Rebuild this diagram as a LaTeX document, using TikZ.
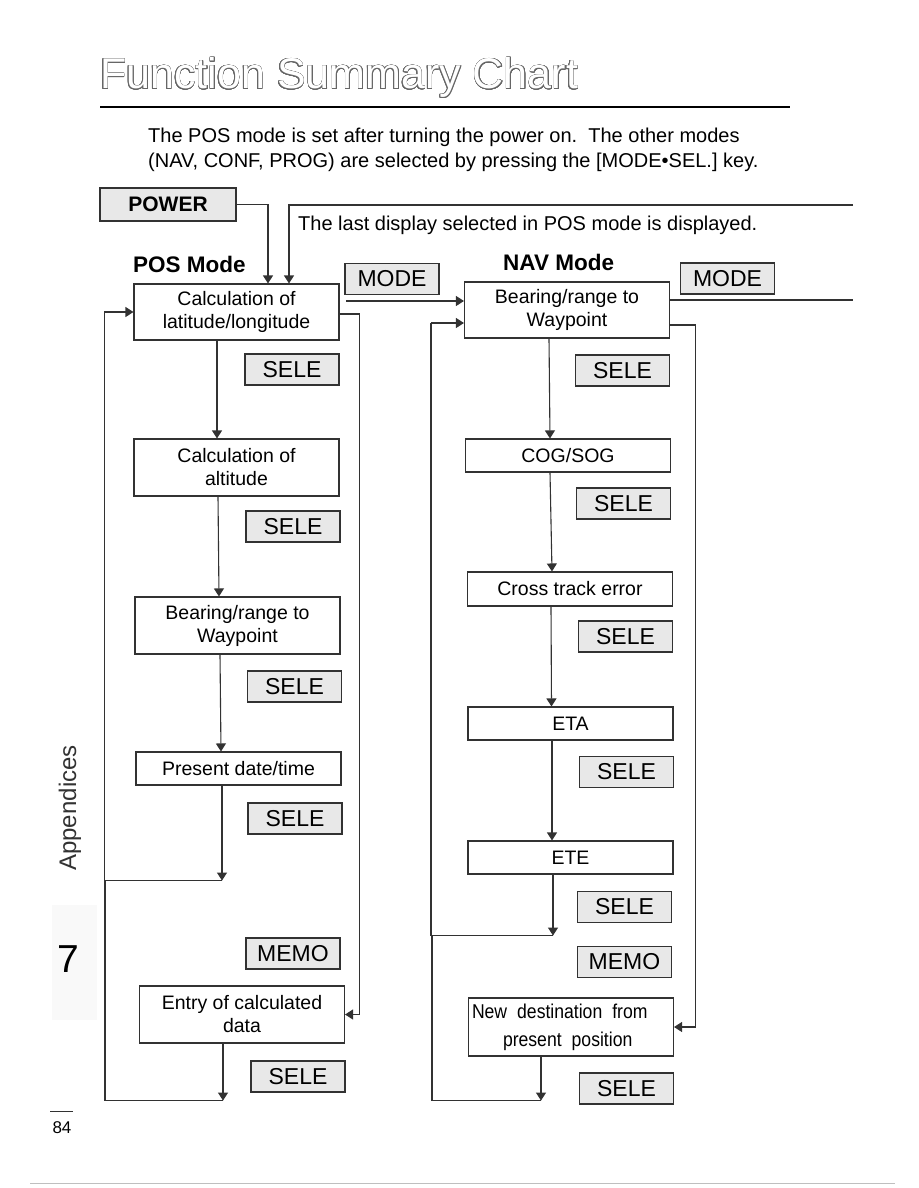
\documentclass[tikz,border=0pt]{standalone}
\usepackage{fontspec}
\setmainfont{Liberation Sans}
\newfontfamily\narrowfont[FakeStretch=0.88]{Liberation Sans}
\usepackage{contour}
\contourlength{0.6pt}
\contournumber{24}
\usetikzlibrary{arrows.meta,positioning}
\definecolor{ink}{RGB}{50,50,50}
\definecolor{keyfill}{RGB}{232,232,232}
\tikzset{
  fbox/.style={draw=ink,line width=1.1pt,minimum width=205pt,align=center,inner sep=0pt,font=\fontsize{19.5}{23}\selectfont},
  keybox/.style={draw=ink,line width=1.1pt,fill=keyfill,minimum width=94pt,minimum height=31pt,inner sep=0pt,font=\fontsize{23}{24}\selectfont},
  modelabel/.style={anchor=base west,inner sep=0pt,font=\fontsize{22.5}{24}\bfseries},
}
\begin{document}
\begin{tikzpicture}[x=1pt,y=-1pt,
    flow/.style={draw=ink,line width=1.1pt,-{Triangle[length=8pt,width=10pt]}},
    link/.style={draw=ink,line width=1.1pt},
  ]
  \useasboundingbox (0,0) rectangle (918,1188);

  % heading
  \node[anchor=base west,inner sep=0pt,font=\fontsize{43}{46}\selectfont] (title) at (100,89)
    {\color{white}\contour{gray!80!black}{Function Summary Chart}};
  \draw[line width=2pt] (100,107) -- (790,107);
  \node[anchor=north west,inner sep=0pt,align=left,font=\fontsize{20}{25}\selectfont] (intro) at (148,128)
    {The POS mode is set after turning the power on.\ \ The other modes\\(NAV, CONF, PROG) are selected by pressing the [MODE\textbullet SEL.] key.};

  % power on
  \node[draw=ink,line width=1.1pt,fill=keyfill,minimum width=136pt,minimum height=33pt,inner sep=0pt,font=\fontsize{21}{22}\bfseries] (power) at (168,204.5) {POWER};
  \coordinate (lastend) at (853,205);
  \node[anchor=base west,inner sep=0pt,font=\fontsize{20}{22}\selectfont] (lastnote) at (298,230)
    {The last display selected in POS mode is displayed.};

  \node[modelabel] (poslabel) at (133,272) {POS Mode};
  \node[modelabel] (navlabel) at (503,270) {NAV Mode};

  % POS column
  \node[fbox,minimum height=56pt] (pos1) at (236.5,312) {Calculation of\\latitude/longitude};
  \node[fbox,minimum height=57pt] (pos2) at (236.5,467.5) {Calculation of\\altitude};
  \node[fbox,minimum height=57pt] (pos3) at (237.5,625.5) {Bearing/range to\\Waypoint};
  \node[fbox,minimum height=33pt] (pos4) at (238.5,768.5) {Present date/time};
  \node[fbox,minimum height=57pt] (pos5) at (242,1014.5) {Entry of calculated\\data};

  \node[keybox] (psele1) at (292,369.5) {SELE};
  \node[keybox] (psele2) at (293,526.5) {SELE};
  \node[keybox] (psele3) at (294.5,686.5) {SELE};
  \node[keybox] (psele4) at (295,818.5) {SELE};
  \node[keybox] (pmemo) at (293,953.5) {MEMO};
  \node[keybox] (psele5) at (298,1076.5) {SELE};

  % NAV column
  \node[fbox,minimum height=56pt] (nav1) at (567,310) {Bearing/range to\\Waypoint};
  \node[fbox,minimum height=33pt] (nav2) at (568,455.5) {COG/SOG};
  \node[fbox,minimum height=34pt] (nav3) at (570,589) {Cross track error};
  \node[fbox,minimum height=33pt] (nav4) at (570.5,723.5) {ETA};
  \node[fbox,minimum height=33pt] (nav5) at (570.5,857.5) {ETE};
  \node[fbox,minimum height=58pt,text width=198pt,align=left,font=\narrowfont\fontsize{20}{28}\selectfont] (nav6) at (571,1027)
    {\raisebox{-3pt}{New\enspace destination\enspace from}\\\hspace*{31pt}\raisebox{-3pt}{present\enspace position}};

  \node[keybox] (nsele1) at (622.5,370.5) {SELE};
  \node[keybox] (nsele2) at (623.5,503.5) {SELE};
  \node[keybox] (nsele3) at (625.5,636.5) {SELE};
  \node[keybox] (nsele4) at (626.5,772) {SELE};
  \node[keybox] (nsele5) at (624.5,907) {SELE};
  \node[keybox] (nmemo) at (624.5,962) {MEMO};
  \node[keybox] (nsele6) at (626.5,1088.5) {SELE};

  \node[keybox] (mode1) at (392,279) {MODE};
  \node[keybox] (mode2) at (727.5,278.5) {MODE};

  % entry arrows
  \draw[flow] (power.east) -| ([xshift=31.5pt]pos1.north);
  \draw[flow] (lastend) -| ([xshift=52.5pt]pos1.north);
  \coordinate (m1) at (346,301);
  \draw[flow] (m1) -- (m1 -| nav1.west);
  \coordinate (m2) at (853,300);
  \draw[link] (nav1.east |- m2) -- (m2);

  % POS flow
  \draw[flow] ([xshift=-19.5pt]pos1.south) -- ([xshift=-19.5pt]pos2.north);
  \draw[flow] ([xshift=-18.5pt]pos2.south) -- ([xshift=-18.5pt]pos3.north);
  \draw[flow] ([xshift=-17.5pt]pos3.south) -- ([xshift=-17.5pt]pos4.north);
  \draw[flow] ([xshift=-16.5pt]pos4.south) -- ++(0,95) coordinate (p4end);
  \draw[flow] ([xshift=-19pt]pos5.south) -- ++(0,57) coordinate (p5end);
  \draw[link] (p4end) -| ([xshift=-29pt]pos1.west);
  \draw[flow] ([xshift=-29pt]pos1.west) -- (pos1.west);
  \draw[link] (p5end) -| (p4end -| 105,0);
  \draw[flow] ([yshift=-2pt]pos1.east) -- ++(20,0) |- (pos5.east);

  % NAV flow
  \draw[flow] ([xshift=-18pt]nav1.south) -- ([xshift=-18pt]nav2.north);
  \draw[flow] ([xshift=-18pt]nav2.south) -- ([xshift=-18pt]nav3.north);
  \draw[flow] ([xshift=-19pt]nav3.south) -- ([xshift=-19pt]nav4.north);
  \draw[flow] ([xshift=-18.5pt]nav4.south) -- ([xshift=-18.5pt]nav5.north);
  \draw[flow] ([xshift=-17.5pt]nav5.south) -- ++(0,61) coordinate (n5end);
  \draw[flow] ([xshift=-30pt]nav6.south) -- ++(0,44) coordinate (n6end);
  \draw[link] (n5end) -| ([xshift=-33pt,yshift=-13pt]nav1.west);
  \draw[flow] ([xshift=-33pt,yshift=-13pt]nav1.west) -- ([yshift=-13pt]nav1.west);
  \draw[link] (n6end) -| (n5end -| 432,0);
  \draw[flow] ([yshift=-15pt]nav1.east) -- ++(25,0) |- (nav6.east);

  % margin
  \node[rotate=90,inner sep=0pt,text=ink,font=\fontsize{24}{26}\selectfont] (appx) at (70,808) {Appendices};
  \fill[gray!5] (52,905) rectangle (97,1020);
  \node[inner sep=0pt,font=\fontsize{39}{40}\selectfont] (chap) at (68,959) {7};
  \draw[ink,line width=1pt] (50,1111) -- (73,1111);
  \node[anchor=base,inner sep=0pt,font=\fontsize{17}{18}\selectfont] (pageno) at (62,1133) {84};
  \draw[gray!50,line width=0.8pt] (30,1183) -- (895,1183);
\end{tikzpicture}
\end{document}
